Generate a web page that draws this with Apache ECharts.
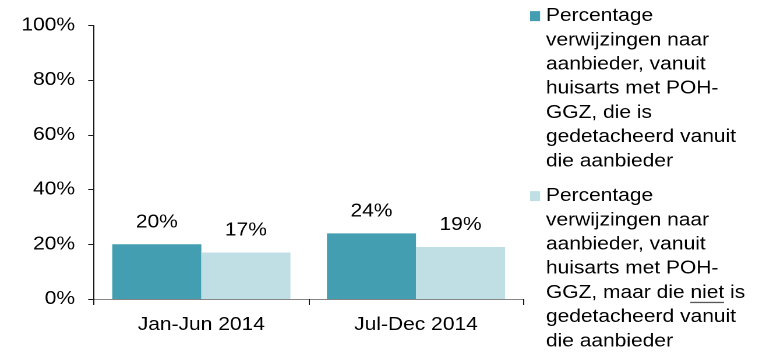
<!DOCTYPE html>
<html>
<head>
<meta charset="utf-8">
<script src="https://cdn.jsdelivr.net/npm/echarts@6/dist/echarts.min.js"></script>
<style>
  html, body { margin: 0; padding: 0; background: #fff; overflow: hidden; }
  #wrap { width: 766px; height: 353px; overflow: hidden; }
  /* the chart is laid out narrow and widened, giving the broad lettering */
  #chart { width: 658px; height: 353px; transform: scaleX(1.165); transform-origin: 0 0; }
</style>
</head>
<body>
<div id="wrap"><div id="chart"></div></div>
<script>
// Periods on the category axis
const categories = ['Jan-Jun 2014', 'Jul-Dec 2014'];

// Share of referrals (%) per period
const seriesNames = [
  'Percentage verwijzingen naar aanbieder, vanuit huisarts met POH-GGZ, die is gedetacheerd vanuit die aanbieder',
  'Percentage verwijzingen naar aanbieder, vanuit huisarts met POH-GGZ, maar die niet is gedetacheerd vanuit die aanbieder'
];
const detachedValues = [20, 24];
const notDetachedValues = [17, 19];

// Legend text, broken into lines; {u|...} marks underlined words
const legendLines = [
  ['Percentage', 'verwijzingen naar', 'aanbieder, vanuit', 'huisarts met POH-', 'GGZ, die is', 'gedetacheerd vanuit', 'die aanbieder'],
  ['Percentage', 'verwijzingen naar', 'aanbieder, vanuit', 'huisarts met POH-', 'GGZ, maar die {u|niet} is', 'gedetacheerd vanuit', 'die aanbieder']
];

// Value axis ticks
const yMin = 0, yMax = 100, yStep = 20;

const colors = ['#429eb0', '#bfdfe4'];
const FONT = "'Liberation Sans', Arial, sans-serif";
const LH = 24.2;                 // legend line height
const BLOCK = LH * 7;            // height of one legend entry
const ICON_W = 8.6;

// legend marker: small square aligned with the first text line
const iconPath = 'path://M0 ' + (LH / 2 - 5) + ' H' + ICON_W + ' V' + (LH / 2 + 5) + ' H0 Z' +
  ' M0 0 L0.01 0 M0 ' + BLOCK + ' L0.01 ' + BLOCK;

// underline drawn as a background strip under a rich-text token
const ul = document.createElement('canvas');
ul.width = 4; ul.height = 24;
const ctx = ul.getContext('2d');
ctx.fillStyle = '#222';
ctx.fillRect(0, 21, 4, 1);

const chart = echarts.init(document.getElementById('chart'), null, { renderer: 'canvas', devicePixelRatio: 2 });

const labelStyle = { color: '#000', fontSize: 18, fontFamily: FONT };

chart.setOption({
  animation: false,
  grid: { left: 80.7, right: 208.8, top: 25.5, bottom: 54, containLabel: false },
  legend: {
    orient: 'vertical',
    left: 455,
    top: 4,
    height: 400,
    padding: 0,
    itemWidth: ICON_W,
    itemHeight: BLOCK,
    itemGap: 10.6,
    icon: iconPath,
    selectedMode: false,
    data: seriesNames,
    formatter: function (name) {
      return legendLines[seriesNames.indexOf(name)].join('\n');
    },
    textStyle: {
      color: '#000',
      fontSize: 18,
      fontFamily: FONT,
      lineHeight: LH,
      rich: {
        u: {
          color: '#000', fontSize: 18, fontFamily: FONT, lineHeight: LH, height: 24,
          backgroundColor: { image: ul }
        }
      }
    }
  },
  xAxis: {
    type: 'category',
    data: categories,
    axisLine: { show: true, lineStyle: { color: '#868686', width: 1 } },
    axisTick: { show: true, length: 6, alignWithLabel: false, lineStyle: { color: '#1a1a1a' } },
    axisLabel: Object.assign({ margin: 17 }, labelStyle),
    splitLine: { show: false },
    z: 3
  },
  yAxis: {
    type: 'value',
    min: yMin,
    max: yMax,
    interval: yStep,
    axisLine: { show: true, lineStyle: { color: '#1a1a1a', width: 1 } },
    axisTick: { show: true, length: 5, lineStyle: { color: '#1a1a1a' } },
    axisLabel: Object.assign({ margin: 16.3, formatter: '{value}%' }, labelStyle),
    splitLine: { show: false }
  },
  series: [
    {
      name: seriesNames[0],
      type: 'bar',
      data: detachedValues,
      barGap: '0%',
      barCategoryGap: '17%',
      itemStyle: { color: colors[0] },
      label: Object.assign({ show: true, position: 'top', distance: 13, formatter: '{c}%' }, labelStyle)
    },
    {
      name: seriesNames[1],
      type: 'bar',
      data: notDetachedValues,
      barGap: '0%',
      barCategoryGap: '17%',
      itemStyle: { color: colors[1] },
      label: Object.assign({ show: true, position: 'top', distance: 13, formatter: '{c}%' }, labelStyle)
    }
  ]
});
</script>
</body>
</html>
